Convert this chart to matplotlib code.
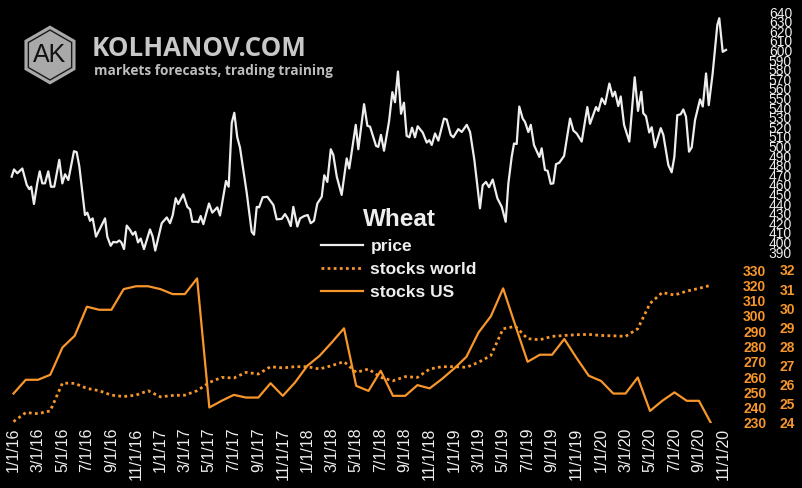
import matplotlib
matplotlib.use("Agg")
import matplotlib.pyplot as plt
from matplotlib.patches import RegularPolygon

plt.rcParams['font.family'] = ['Liberation Sans', 'DejaVu Sans']

# weekly wheat price, x = months since 1/1/16
price_month = [-0.15, 0.04, 0.31, 0.72, 1.08, 1.29, 1.45, 1.67, 1.94, 2.14, 2.35, 2.57, 2.84, 3.06,
               3.33, 3.74, 3.99, 4.21, 4.48, 4.94, 5.16, 5.38, 5.84, 6.03, 6.25, 6.47, 6.74, 7.07,
               7.48, 7.66, 7.94, 8.15, 8.43, 8.64, 8.81, 9.03, 9.25, 9.52, 9.74, 9.95, 10.17, 10.39,
               10.66, 11.15, 11.37, 11.58, 12.11, 12.52, 12.79, 13.01, 13.25, 13.46, 13.87, 14.2,
               14.42, 14.61, 14.97, 15.1, 15.29, 15.51, 15.97, 16.24, 16.65, 16.87, 17.14, 17.36,
               17.58, 17.83, 18.04, 18.28, 18.5, 19.05, 19.46, 19.65, 19.87, 20.06, 20.36, 20.74,
               21.23, 21.5, 21.91, 22.18, 22.4, 22.65, 22.86, 23.19, 23.41, 23.76, 24.04, 24.28,
               24.55, 24.82, 25.18, 25.39, 25.64, 25.92, 26.13, 26.41, 26.81, 27.22, 27.43, 27.96,
               28.17, 28.64, 28.91, 29.13, 29.62, 29.8, 30.02, 30.27, 30.68, 30.95, 31.17, 31.41,
               31.66, 31.9, 32.12, 32.34, 32.56, 32.8, 33.02, 33.43, 33.76, 33.97, 34.17, 34.44,
               34.71, 35.17, 35.39, 35.72, 35.93, 36.34, 36.62, 37.03, 37.3, 37.65, 38.11, 38.33,
               38.6, 38.85, 39.15, 39.53, 39.89, 40.21, 40.43, 40.7, 40.89, 41.11, 41.32, 41.6,
               41.79, 42.06, 42.26, 42.52, 42.96, 43.15, 43.42, 43.64, 43.89, 44.1, 44.32, 44.59,
               44.98, 45.47, 45.74, 46.01, 46.42, 46.88, 47.1, 47.59, 47.78, 48.06, 48.33, 48.68,
               48.95, 49.14, 49.41, 49.61, 49.88, 50.31, 50.75, 51.02, 51.29, 51.45, 51.67, 51.94,
               52.14, 52.41, 52.88, 53.09, 53.5, 53.77, 53.99, 54.23, 54.51, 54.72, 54.94, 55.19,
               55.41, 55.68, 56.09, 56.31, 56.58, 56.8, 57.12, 57.5, 57.66, 57.94, 58.21]
price = [468.5, 476, 472, 477, 460, 455.5, 458, 440, 461.5, 474, 461.5, 461.5, 474, 458,
         458, 486, 461.5, 471, 465, 495, 494, 479, 428.5, 431, 422.5, 425, 406, 414.5,
         425, 406, 396.5, 400.5, 400, 402, 400, 393, 417.5, 413, 408, 411, 400, 404,
         393, 413.5, 406, 391.5, 420, 426, 420, 428.5, 446, 440, 450, 437,
         434.5, 421.5, 421.5, 421, 427.5, 419, 440.5, 431, 436.5, 428, 447.5, 464,
         458, 524.5, 535, 509.5, 499, 452, 411, 408, 437, 436.5, 447, 447.5,
         439, 424, 424.5, 429.5, 425, 417, 437, 416.5, 425, 427.5, 428.5, 420,
         422.5, 440.5, 447.5, 470, 463, 497, 491, 468.5, 449.5, 487.5, 477, 522.5,
         497, 544, 521.5, 520.5, 500.5, 499.5, 512, 495.5, 526, 556.5, 546, 578,
         534, 545.5, 511, 509.5, 519.5, 509.5, 521, 514.5, 504, 506.5, 501.5, 513.5,
         506, 529, 528, 512, 509.5, 518, 515, 522.5, 515, 486, 435.5, 459.5,
         463, 457.5, 465.5, 446, 437, 421.5, 461.5, 489, 503, 502.5, 541.5, 529,
         525.5, 515, 522.5, 501.5, 489, 498, 475.5, 474.5, 461, 461.5, 481.5, 483,
         490, 529, 516.5, 513.5, 505, 541, 523.5, 541, 537, 550, 544, 565.5,
         552, 557, 542, 552, 522.5, 505, 572, 537, 557, 534.5, 531.5, 514.5,
         520, 499, 519, 512, 480.5, 473, 489, 532.5, 533.5, 538.5, 531, 494.5,
         499, 527.5, 549, 541.5, 576, 543, 576, 626.5, 633.5, 598.5, 600.5]

# monthly stocks, Jan 2016 .. Oct 2020
stocks_world = [230.9, 236.8, 236.1, 237.9, 256.1, 255.9, 252.6, 251.1, 248.2, 247.3,
                248.2, 251.1, 247.1, 248.0, 248.2, 251.1, 256.5, 259.8, 259.4, 263.1,
                262.0, 266.8, 266.0, 266.8, 266.8, 265.3, 267.5, 270.1, 263.1, 265.3,
                259.8, 257.6, 260.3, 259.8, 265.3, 266.8, 266.8, 266.4, 269.7, 274.1,
                291.6, 293.2, 285.1, 284.4, 286.6, 287.2, 287.7, 287.9, 287.2, 287.0,
                286.6, 291.6, 308.1, 315.3, 313.6, 316.2, 318.0, 320.1]
stocks_us = [25.54, 26.26, 26.26, 26.52, 27.95, 28.56, 30.08, 29.92, 29.92, 31.0,
             31.15, 31.15, 31.0, 30.74, 30.74, 31.56, 24.81, 25.16, 25.47, 25.33,
             25.33, 26.08, 25.42, 26.12, 26.99, 27.51, 28.21, 28.95, 25.94, 25.68,
             26.73, 25.42, 25.42, 25.98, 25.81, 26.3, 26.85, 27.46, 28.74, 29.58,
             31.04, 29.1, 27.2, 27.57, 27.57, 28.39, 27.4, 26.47, 26.2, 25.54,
             25.54, 26.38, 24.63, 25.16, 25.6, 25.16, 25.16, 23.97]

tick_labels = ['1/1/16', '3/1/16', '5/1/16', '7/1/16', '9/1/16', '11/1/16',
               '1/1/17', '3/1/17', '5/1/17', '7/1/17', '9/1/17', '11/1/17',
               '1/1/18', '3/1/18', '5/1/18', '7/1/18', '9/1/18', '11/1/18',
               '1/1/19', '3/1/19', '5/1/19', '7/1/19', '9/1/19', '11/1/19',
               '1/1/20', '3/1/20', '5/1/20', '7/1/20', '9/1/20', '11/1/20']

months = list(range(len(stocks_us)))
tick_pos = [2 * i for i in range(len(tick_labels))]

ORANGE = '#f7962b'
WHITE = '#eeeeee'
W, H = 802, 488


def rect(l, t, r, b):
    return [l / W, 1 - b / H, (r - l) / W, (b - t) / H]


fig = plt.figure(figsize=(W / 100, H / 100), dpi=100, facecolor='black')

ax_p = fig.add_axes(rect(8, 12, 732, 252))
ax_w = fig.add_axes(rect(8, 270, 732, 423))
ax_u = ax_w.twinx()

for ax in (ax_p, ax_w, ax_u):
    ax.set_facecolor('none')
    for s in ax.spines.values():
        s.set_visible(False)
    ax.set_xlim(-0.45, 58.7)

# price
lp, = ax_p.plot(price_month, price, color=WHITE, lw=1.6, label='price')
ax_p.set_ylim(390, 640)
ax_p.set_yticks(range(390, 641, 10))
ax_p.yaxis.tick_right()
ax_p.tick_params(axis='y', length=0, pad=26.5, labelsize=10, labelcolor=WHITE)
ax_p.set_xticks([])

# stocks
lw_, = ax_w.plot(months, stocks_world, color=ORANGE, lw=2, ls=(0, (1, 1.2)), label='stocks world')
lu, = ax_u.plot(months, stocks_us, color=ORANGE, lw=1.6, label='stocks US')
ax_w.set_ylim(230, 330)
ax_w.set_yticks(range(230, 331, 10))
ax_u.set_ylim(24, 32)
ax_u.set_yticks(range(24, 33))
ax_w.yaxis.tick_right()
ax_w.tick_params(axis='y', length=0, pad=8, labelsize=10, labelcolor=ORANGE)
ax_u.tick_params(axis='y', length=0, pad=34, labelsize=10, labelcolor=ORANGE)
for t in ax_w.get_yticklabels() + ax_u.get_yticklabels():
    t.set_fontweight('bold')

ax_w.set_xticks(tick_pos)
ax_w.set_xticklabels(tick_labels, rotation=90, fontsize=11.5, color=WHITE)
ax_w.tick_params(axis='x', length=0, pad=3.5)

# legend
leg = fig.legend([lp, lw_, lu], ['price', 'stocks world', 'stocks US'],
                 loc='upper left', bbox_to_anchor=(321 / W, 1 - 208 / H),
                 frameon=False, borderpad=0, borderaxespad=0,
                 handlelength=2.4, handletextpad=0.45, labelspacing=0.45,
                 prop={'size': 12.5, 'weight': 'bold'}, labelcolor=WHITE,
                 title='Wheat', title_fontproperties={'size': 17.5, 'weight': 'bold'})
leg.get_title().set_color(WHITE)

# logo
hex_out = RegularPolygon((0.50, 4.33), 6, radius=0.295, facecolor='#a9a9a9',
                         edgecolor='none', transform=fig.dpi_scale_trans)
hex_in = RegularPolygon((0.50, 4.33), 6, radius=0.25, facecolor='none',
                        edgecolor='#1a1a1a', lw=1, transform=fig.dpi_scale_trans)
fig.add_artist(hex_out)
fig.add_artist(hex_in)
fig.text(50 / W, 1 - 55 / H, 'AK', fontsize=18, color='#111111', ha='center', va='center')
fig.text(92 / W, 1 - 48 / H, 'KOLHANOV.COM', fontsize=18.7, fontweight='bold',
         family=['Open Sans', 'DejaVu Sans'], color='#c8c8c8', va='center')
fig.text(94 / W, 1 - 71 / H, 'markets forecasts, trading training', fontsize=9.8,
         fontweight='bold', family=['Open Sans', 'DejaVu Sans'], color='#bdbdbd', va='center')

fig.savefig('out.png', dpi=100, facecolor='black')
